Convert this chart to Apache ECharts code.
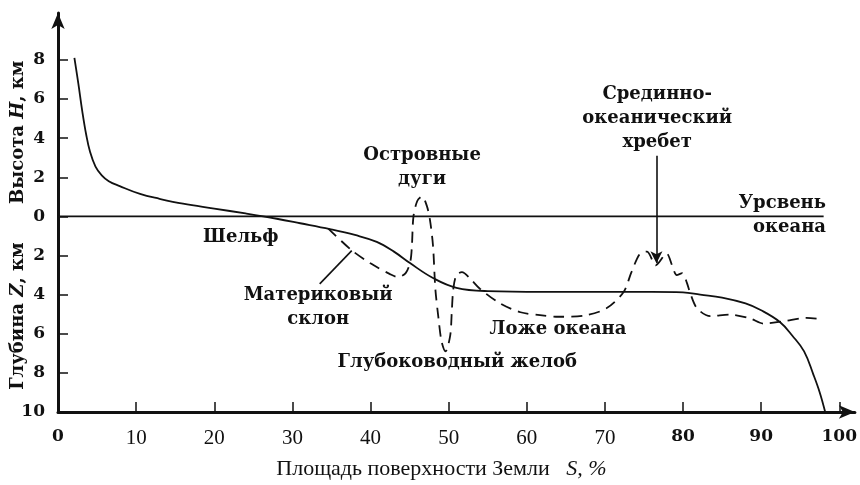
<!DOCTYPE html>
<html>
<head>
<meta charset="utf-8">
<script src="https://cdn.jsdelivr.net/npm/echarts@6/dist/echarts.min.js"></script>
<style>
  html, body { margin: 0; padding: 0; background: #fff; }
  #chart { width: 860px; height: 485px; }
</style>
</head>
<body>
<div id="chart"></div>
<script>
// Hypsographic curve of the Earth's surface: share of area (%) vs height / depth (km)

const xTicks = [0, 10, 20, 30, 40, 50, 60, 70, 80, 90, 100];
const xBoldTicks = [0, 80, 90, 100];
const yTicks = [-10, -8, -6, -4, -2, 0, 2, 4, 6, 8];

// Cumulative hypsographic curve: [area %, elevation km], depths negative
const hypsoCurve = [
  [2.1, 8.1], [2.6, 6.8], [3.1, 5.4], [3.6, 4.2], [4.1, 3.3],
  [4.8, 2.55], [5.6, 2.1], [6.5, 1.8], [7.9, 1.55], [10.5, 1.15], [13, 0.9],
  [16, 0.65], [20, 0.4], [24, 0.15], [28, -0.12], [31, -0.35], [34.8, -0.65],
  [38, -0.95], [40.8, -1.3], [43, -1.8], [45.1, -2.4], [48, -3.15], [51, -3.65],
  [55, -3.82], [62, -3.86], [70, -3.86], [76, -3.86], [80, -3.88], [82.2, -4.0],
  [85, -4.15], [88, -4.45], [90, -4.8], [92.4, -5.4], [94, -6.1], [95.5, -6.9],
  [96.7, -8.1], [97.5, -9.0], [98.2, -10]
];

// Generalised profile of the ocean floor (dashed)
const oceanProfile = [
  [34.6, -0.62], [37.5, -1.7], [40, -2.4], [42.5, -2.95], [43.5, -3.1],
  [44.5, -2.9], [45.1, -2.3], [45.3, -1.5], [45.5, 0.0], [46.0, 0.8],
  [46.6, 1.02], [47.2, 0.55], [47.6, -0.15], [48.0, -1.5], [48.3, -3.7],
  [48.7, -5.2], [49.1, -6.4], [49.6, -6.9], [50.2, -6.1], [50.4, -4.9],
  [50.6, -3.7], [51.0, -3.0], [51.7, -2.85], [52.8, -3.2], [54, -3.7],
  [56.6, -4.45], [59.2, -4.9], [61.7, -5.05], [64, -5.13], [67.2, -5.08],
  [70.2, -4.7], [72.4, -3.86], [73.4, -2.85], [74.5, -1.9], [75.4, -1.8],
  [76.5, -2.5], [77.9, -1.9], [78.6, -2.5], [79.2, -3.0], [79.9, -2.9],
  [80.5, -3.4], [80.9, -3.9], [81.8, -4.7], [83.5, -5.1], [86, -5.02],
  [88.6, -5.22], [90.3, -5.48], [92.9, -5.36], [95.8, -5.19], [98, -5.26]
];

// Sea level
const seaLevel = [[0, 0], [98, 0]];

// Pointer lines from captions to the profile
const ridgePointer = [[76.6, 3.1], [76.6, -2.4]];
const slopePointer = [[33.5, -3.45], [37.6, -1.75]];

// Captions: text and anchor in data units
const captions = [
  { text: 'Островные\nдуги', at: [46.6, 2.5], align: 'center' },
  { text: 'Срединно-\nокеанический\nхребет', at: [76.7, 5.0], align: 'center' },
  { text: 'Урсвень\nокеана', at: [98.3, 0.04], align: 'right' },
  { text: 'Шельф', at: [23.4, -1.05], align: 'center' },
  { text: 'Материковый\nсклон', at: [33.3, -4.67], align: 'center' },
  { text: 'Ложе океана', at: [64.0, -5.78], align: 'center' },
  { text: 'Глубоководный желоб', at: [51.1, -7.46], align: 'center' }
];

const INK = '#111';
const BOLD = 'bold 18px "DejaVu Serif"';

const option = {
  animation: false,
  backgroundColor: '#fff',
  grid: { left: 58, right: 5, top: 13, bottom: 71, containLabel: false },
  xAxis: {
    type: 'value',
    min: 0,
    max: 102,
    splitLine: { show: false },
    axisLine: {
      show: true,
      onZero: false,
      symbol: ['none', 'arrow'],
      symbolSize: [10, 16],
      lineStyle: { color: INK, width: 3 }
    },
    axisTick: {
      show: true, inside: true, length: 10,
      customValues: xTicks,
      lineStyle: { color: INK, width: 1.5 }
    },
    axisLabel: {
      show: true,
      margin: 16,
      customValues: xTicks,
      formatter: v => (xBoldTicks.includes(v) ? '{b|' + v + '}' : '{r|' + v + '}'),
      rich: {
        b: { fontFamily: 'DejaVu Serif', fontWeight: 'bold', fontSize: 17, color: INK },
        r: { fontFamily: 'Liberation Serif', fontSize: 21, color: INK }
      }
    },
    name: '{r|Площадь поверхности Земли   }{i|S, %}',
    nameLocation: 'middle',
    nameGap: 46,
    nameTextStyle: {
      padding: [0, 30, 0, 0],
      rich: {
        r: { fontFamily: 'Liberation Serif', fontSize: 22, color: INK },
        i: { fontFamily: 'Liberation Serif', fontStyle: 'italic', fontSize: 22, color: INK }
      }
    }
  },
  yAxis: {
    type: 'value',
    min: -10,
    max: 10.4,
    splitLine: { show: false },
    axisLine: {
      show: true,
      onZero: false,
      symbol: ['none', 'arrow'],
      symbolSize: [10, 16],
      lineStyle: { color: INK, width: 3 }
    },
    axisTick: {
      show: true, inside: true, length: 10,
      customValues: yTicks,
      lineStyle: { color: INK, width: 1.5 }
    },
    axisLabel: {
      show: true,
      margin: 13,
      customValues: yTicks,
      formatter: v => String(Math.abs(v)),
      fontFamily: 'DejaVu Serif',
      fontWeight: 'bold',
      fontSize: 17,
      color: INK
    }
  },
  series: [
    {
      name: 'Уровень океана',
      type: 'line',
      data: seaLevel,
      symbol: 'none',
      silent: true,
      lineStyle: { color: INK, width: 1.6 },
      markLine: {
        silent: true,
        animation: false,
        label: { show: false },
        lineStyle: { color: INK, width: 1.6, type: 'solid' },
        data: [
          [
            { coord: ridgePointer[0], symbol: 'none' },
            { coord: ridgePointer[1], symbol: 'arrow', symbolSize: [9, 12] }
          ],
          [
            { coord: slopePointer[0], symbol: 'none' },
            { coord: slopePointer[1], symbol: 'none' }
          ]
        ]
      }
    },
    {
      name: 'Гипсографическая кривая',
      type: 'line',
      data: hypsoCurve,
      symbol: 'none',
      smooth: 0.4,
      silent: true,
      lineStyle: { color: INK, width: 1.8 }
    },
    {
      name: 'Профиль дна',
      type: 'line',
      data: oceanProfile,
      symbol: 'none',
      smooth: 0.3,
      silent: true,
      lineStyle: { color: INK, width: 1.8, type: [11, 7] }
    }
  ]
};

const chart = echarts.init(document.getElementById('chart'), null, { renderer: 'canvas' });
chart.setOption(option);

// Captions and the two rotated y-axis titles, positioned through the axes
function placeText() {
  const g = [];
  captions.forEach(c => {
    const p = chart.convertToPixel({ gridIndex: 0 }, c.at);
    g.push({
      type: 'text',
      x: p[0], y: p[1],
      silent: true,
      style: {
        text: c.text,
        font: BOLD,
        fill: INK,
        textAlign: c.align,
        textVerticalAlign: 'middle',
        lineHeight: 24
      }
    });
  });
  const yTitles = [
    { label: '{b|Высота }{i|H}{b|, км}', at: [0, 4.3] },
    { label: '{b|Глубина }{i|Z}{b|, км}', at: [0, -5.1] }
  ];
  yTitles.forEach(t => {
    const p = chart.convertToPixel({ gridIndex: 0 }, t.at);
    g.push({
      type: 'text',
      x: 18, y: p[1],
      rotation: Math.PI / 2,
      silent: true,
      style: {
        text: t.label,
        textAlign: 'center',
        textVerticalAlign: 'middle',
        fill: INK,
        rich: {
          b: { font: 'bold 18px "DejaVu Serif"', fill: INK },
          i: { font: 'italic bold 18px "DejaVu Serif"', fill: INK }
        }
      }
    });
  });
  chart.setOption({ graphic: g });
}
placeText();
</script>
</body>
</html>
